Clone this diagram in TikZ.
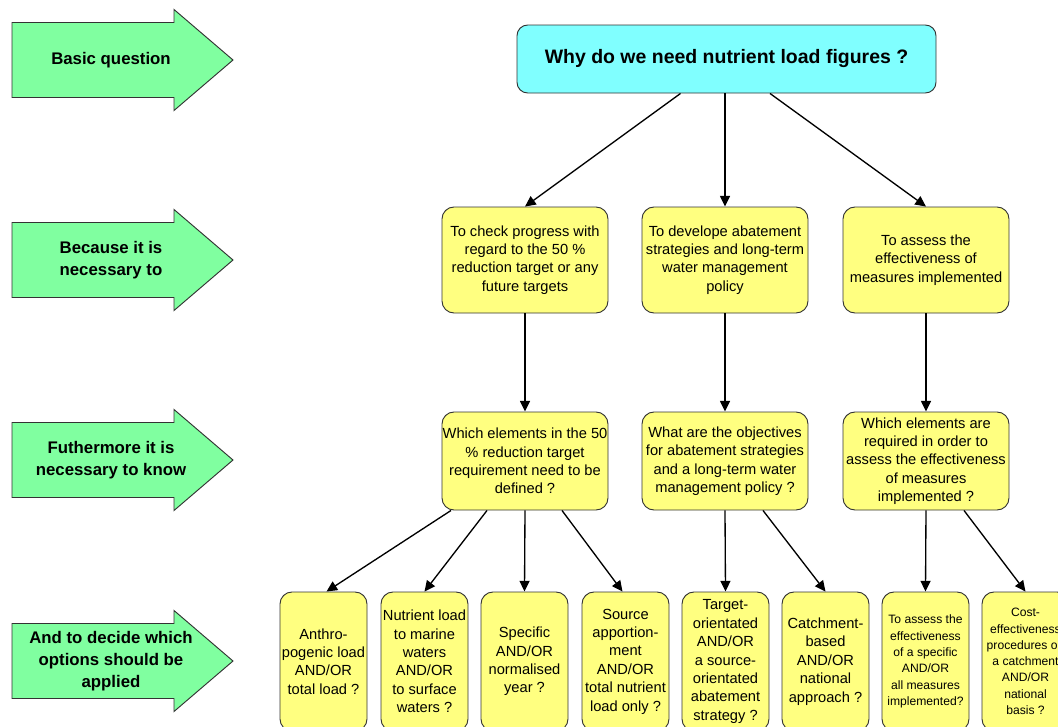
\documentclass[tikz,border=0pt]{standalone}
\usepackage{fontspec}
\setmainfont{Liberation Sans}
\usetikzlibrary{arrows.meta,calc,fit}

\definecolor{leadgreen}{RGB}{128,255,160}
\definecolor{headcyan}{RGB}{128,255,255}
\definecolor{boxyellow}{RGB}{255,255,128}

\begin{document}
\begin{tikzpicture}[x=0.75pt,y=-0.75pt,
  outline/.style={draw=black!80, line width=0.7pt},
  ybox/.style={outline, fill=boxyellow, rounded corners=9pt, inner sep=0pt},
  qbox/.style={outline, fill=headcyan, rounded corners=8pt, inner sep=0pt},
  leadarrow/.style={outline, fill=leadgreen},
  txt/.style={align=center, inner sep=0pt, font=\fontsize{11}{13.8}\selectfont},
  smalltxt/.style={align=center, inner sep=0pt, font=\fontsize{9.1}{12.2}\selectfont},
  leadtxt/.style={align=center, inner sep=0pt, font=\bfseries\fontsize{12.6}{16.5}\selectfont},
  titletxt/.style={align=center, inner sep=0pt, font=\bfseries\fontsize{14.6}{17}\selectfont},
  conn/.style={line width=1pt, -{Triangle[length=8pt,width=7.5pt]}}
]
\useasboundingbox (0,0) rectangle (1058,726);
\clip (0,0) rectangle (1058,726);

% ---- green lead-in arrows on the left ----
\foreach \c/\n in {60/l1, 260/l2, 460/l3, 661/l4}{
  \draw[leadarrow] (12,\c-37.5) -- (174,\c-37.5) -- (174,\c-50.5) -- (233,\c)
        -- (174,\c+50.5) -- (174,\c+37.5) -- (12,\c+37.5) -- cycle;
  \coordinate (\n) at (111,\c);
}
\node[leadtxt] (l1t) at (l1) {Basic question};
\node[leadtxt] (l2t) at (l2) {Because it is\\necessary to};
\node[leadtxt] (l3t) at (l3) {Futhermore it is\\necessary to know};
\node[leadtxt] (l4t) at (l4) {And to decide which\\options should be\\applied};

% ---- top question ----
\node[qbox, fit={(517,25) (936,93)}] (q) {};
\node[titletxt] (qt) at (q.center) {Why do we need nutrient load figures ?};

% ---- second row: reasons ----
\node[ybox, fit={(442,207) (608,313)}] (a) {};
\node[ybox, fit={(642,207) (808,313)}] (b) {};
\node[ybox, fit={(843,207) (1009,313)}] (c) {};
\node[txt] (at) at (a.center) {To check progress with\\regard to the 50 \%\\reduction target or any\\future targets};
\node[txt] (bt) at (b.center) {To develope abatement\\strategies and long-term\\water management\\policy};
\node[txt] (ct) at (c.center) {To assess the\\effectiveness of\\measures implemented};

% ---- third row: what must be known ----
\node[ybox, fit={(442,412) (608,510)}] (a3) {};
\node[ybox, fit={(642,412) (808,510)}] (b3) {};
\node[ybox, fit={(843,412) (1009,510)}] (c3) {};
\node[txt] (a3t) at (a3.center) {Which elements in the 50\\\% reduction target\\requirement need to be\\defined ?};
\node[txt] (b3t) at (b3.center) {What are the objectives\\for abatement strategies\\and a long-term water\\management policy ?};
\node[txt] (c3t) at (c3.center) {Which elements are\\required in order to\\assess the effectiveness\\of measures\\implemented ?};

% ---- bottom row: options ----
\foreach \x/\n in {280/o1, 381/o2, 481/o3, 582/o4, 682/o5, 782/o6, 882/o7, 982/o8}{
  \node[ybox, fit={(\x,592) (\x+87,731)}] (\n) {};
}
\node[txt] (o1t) at (o1.center) {Anthro-\\pogenic load\\AND/OR\\total load ?};
\node[txt] (o2t) at (o2.center) {Nutrient load\\to marine\\waters\\AND/OR\\to surface\\waters ?};
\node[txt] (o3t) at (o3.center) {Specific\\AND/OR\\normalised\\year ?};
\node[txt] (o4t) at (o4.center) {Source\\apportion-\\ment\\AND/OR\\total nutrient\\load only ?};
\node[txt] (o5t) at (o5.center) {Target-\\orientated\\AND/OR\\a source-\\orientated\\abatement\\strategy ?};
\node[txt] (o6t) at (o6.center) {Catchment-\\based\\AND/OR\\national\\approach ?};
\node[smalltxt] (o7t) at (o7.center) {To assess the\\effectiveness\\of a specific\\AND/OR\\all measures\\implemented?};
\node[smalltxt] (o8t) at (o8.center) {Cost-\\effectiveness\\procedures on\\a catchment\\AND/OR\\national\\basis ?};

% ---- connectors ----
\draw[conn] ($(q.south)+(-46,0)$) -- (a.north);
\draw[conn] (q.south -| b.north) -- (b.north);
\draw[conn] ($(q.south)+(43.5,0)$) -- (c.north);

\draw[conn] (a.south) -- (a3.north);
\draw[conn] (b.south) -- (b3.north);
\draw[conn] (c.south) -- (c3.north);

\draw[conn] ($(a3.south)+(-74,0)$) -- ($(o1.north)+(3,0)$);
\draw[conn] ($(a3.south)+(-38,0)$) -- (o2.north);
\draw[conn] (a3.south) -- (o3.north);
\draw[conn] ($(a3.south)+(37,0)$) -- ($(o4.north)+(-3,0)$);

\draw[conn] (b3.south) -- (o5.north);
\draw[conn] ($(b3.south)+(38,0)$) -- (o6.north);

\draw[conn] (c3.south) -- (o7.north);
\draw[conn] ($(c3.south)+(38,0)$) -- (o8.north);
\end{tikzpicture}
\end{document}
